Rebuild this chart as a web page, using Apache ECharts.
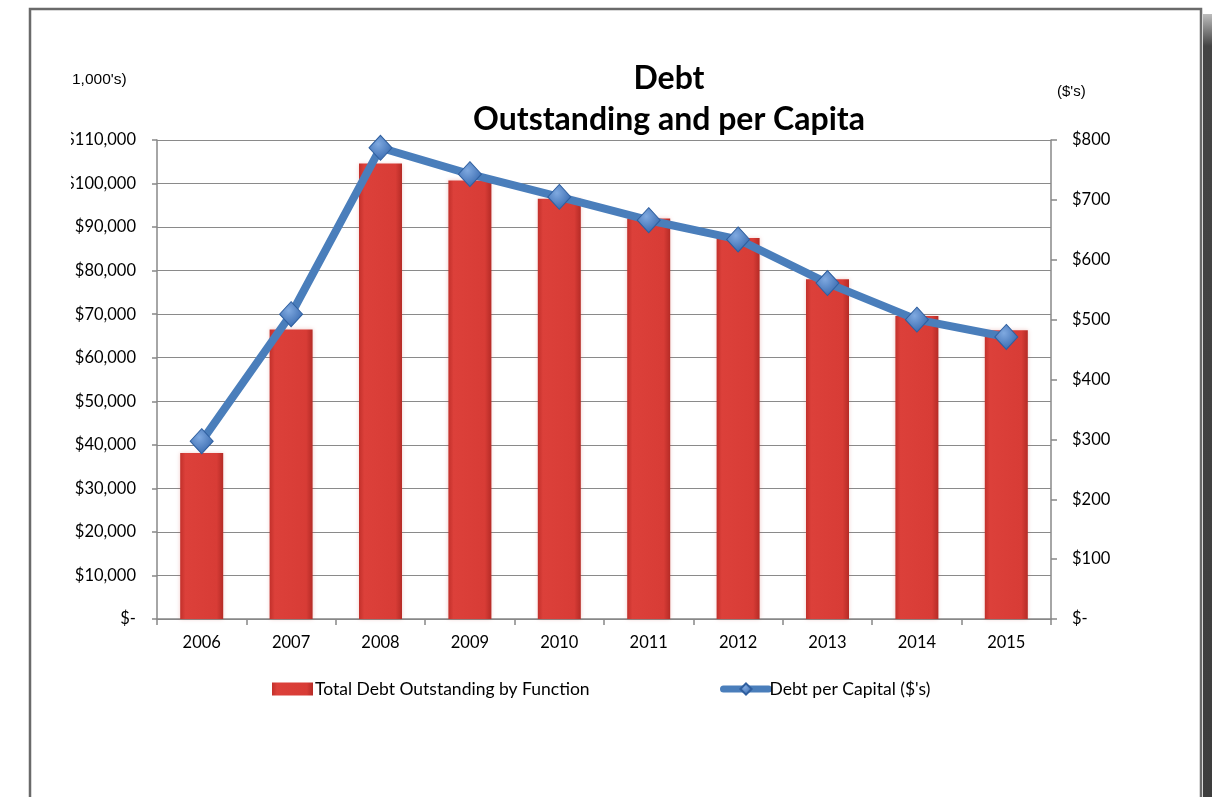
<!DOCTYPE html>
<html>
<head>
<meta charset="utf-8">
<script src="https://cdn.jsdelivr.net/npm/echarts@6/dist/echarts.min.js"></script>
<style>
  html, body { margin: 0; padding: 0; background: #ffffff; }
  #chart { width: 1212px; height: 797px; }
</style>
</head>
<body>
<div id="chart"></div>
<script>
// Fiscal years on the category axis
const years = ['2006', '2007', '2008', '2009', '2010', '2011', '2012', '2013', '2014', '2015'];
// Total debt outstanding, in thousands of dollars (left axis)
const totalDebt = [38100, 66500, 104600, 100700, 96500, 92000, 87500, 78000, 69600, 66300];
// Debt per capita, in dollars (right axis)
const debtPerCapita = [297, 509, 787, 743, 705, 666, 634, 561, 500, 471];
// Axis scales
const leftMax = 110000, leftStep = 10000;
const rightMax = 800, rightStep = 100;

const chart = echarts.init(document.getElementById('chart'));

const fmtThousands = v => v === 0 ? '$-' : '$' + v.toLocaleString('en-US');
const fmtDollars = v => v === 0 ? '$-' : '$' + v;

const barFill = new echarts.graphic.LinearGradient(0, 0, 1, 0, [
  { offset: 0, color: '#c2302b' },
  { offset: 0.12, color: '#dc403a' },
  { offset: 0.85, color: '#d83c36' },
  { offset: 1, color: '#b52b26' }
]);
const diamondFill = new echarts.graphic.RadialGradient(0.4, 0.35, 0.7, [
  { offset: 0, color: '#7fa9e0' },
  { offset: 1, color: '#3567ad' }
]);

chart.setOption({
  animation: false,
  backgroundColor: '#ffffff',
  textStyle: { fontFamily: 'Lato' },
  title: {
    text: 'Debt\nOutstanding and per Capita',
    left: 664, top: 53, textAlign: 'center',
    textStyle: { fontFamily: 'Lato', fontWeight: 'bold', fontSize: 32, lineHeight: 41, color: '#000' }
  },
  legend: [
    {
      data: [{ name: 'Total Debt Outstanding by Function', icon: 'rect' }],
      left: 272, top: 680, padding: 0, itemWidth: 41, itemHeight: 13, itemGap: 4,
      textStyle: { fontFamily: 'Lato', fontSize: 17.5, color: '#000', padding: [0, 0, 0, -3] }
    },
    {
      data: [{
        name: 'Debt per Capital ($\'s)',
        lineStyle: { width: 7, cap: 'round' }
      }],
      left: 720, top: 680, padding: 0, itemWidth: 45, itemHeight: 14,
      textStyle: { fontFamily: 'Lato', fontSize: 17.5, color: '#000', padding: [0, 0, 0, -4] }
    }
  ],
  grid: { left: 157, right: 161, top: 140, bottom: 178 },
  xAxis: {
    type: 'category',
    data: years,
    boundaryGap: true,
    axisLine: { lineStyle: { color: '#888', width: 1.5 } },
    axisTick: { show: true, length: 6, lineStyle: { color: '#888', width: 1.5 } },
    axisLabel: { color: '#000', fontSize: 16.5, fontFamily: 'Lato', margin: 15 }
  },
  yAxis: [
    {
      type: 'value', min: 0, max: leftMax, interval: leftStep,
      axisLine: { show: true, lineStyle: { color: '#888', width: 1.5 } },
      axisTick: { show: true, length: 5, lineStyle: { color: '#888', width: 1.5 } },
      splitLine: { lineStyle: { color: '#8a8a8a', width: 1.2 } },
      axisLabel: { formatter: fmtThousands, color: '#000', fontSize: 16.5, fontFamily: 'Lato', margin: 21 }
    },
    {
      type: 'value', min: 0, max: rightMax, interval: rightStep,
      axisLine: { show: true, lineStyle: { color: '#888', width: 1.5 } },
      axisTick: { show: true, length: 6, lineStyle: { color: '#888', width: 1.5 } },
      splitLine: { show: false },
      axisLabel: { formatter: fmtDollars, color: '#000', fontSize: 16.5, fontFamily: 'Lato', margin: 21 }
    }
  ],
  series: [
    {
      name: 'Total Debt Outstanding by Function',
      type: 'bar',
      data: totalDebt,
      barWidth: 43,
      yAxisIndex: 0,
      itemStyle: { color: barFill, shadowColor: 'rgba(200,60,50,0.25)', shadowBlur: 4 }
    },
    {
      name: 'Debt per Capital ($\'s)',
      type: 'line',
      data: debtPerCapita,
      yAxisIndex: 1,
      z: 5,
      symbol: 'diamond',
      symbolSize: [23, 25],
      lineStyle: { color: '#4a7ebb', width: 8 },
      itemStyle: { color: diamondFill, borderColor: '#2f5f9f', borderWidth: 1 }
    }
  ],
  graphic: [
    // left-edge clip of the unit caption and top tick labels
    { type: 'rect', z: 100, zlevel: 1, shape: { x: 32, y: 60, width: 39, height: 150 }, style: { fill: '#ffffff' } },
    { type: 'text', z: 101, zlevel: 1, left: 72, top: 72, style: { text: '1,000\'s)', fontFamily: 'Liberation Sans', fontSize: 15.5, fill: '#000' } },
    { type: 'text', z: 101, zlevel: 1, left: 1057, top: 84, style: { text: '($\'s)', fontFamily: 'Liberation Sans', fontSize: 15, fill: '#000' } },
    // outer frame
    { type: 'rect', z: 102, zlevel: 1, shape: { x: 30, y: 9, width: 1171, height: 830 }, style: { fill: 'none', stroke: '#6a6a6a', lineWidth: 2.5 } },
    // frame drop shadow on the right
    {
      type: 'rect', z: 102, zlevel: 1, shape: { x: 1203, y: 14, width: 9, height: 800 },
      style: {
        fill: new echarts.graphic.LinearGradient(0, 0, 0, 1, [
          { offset: 0, color: '#bdbdbd' },
          { offset: 0.04, color: '#444' },
          { offset: 1, color: '#3d3d3d' }
        ])
      }
    }
  ]
});
</script>
</body>
</html>
